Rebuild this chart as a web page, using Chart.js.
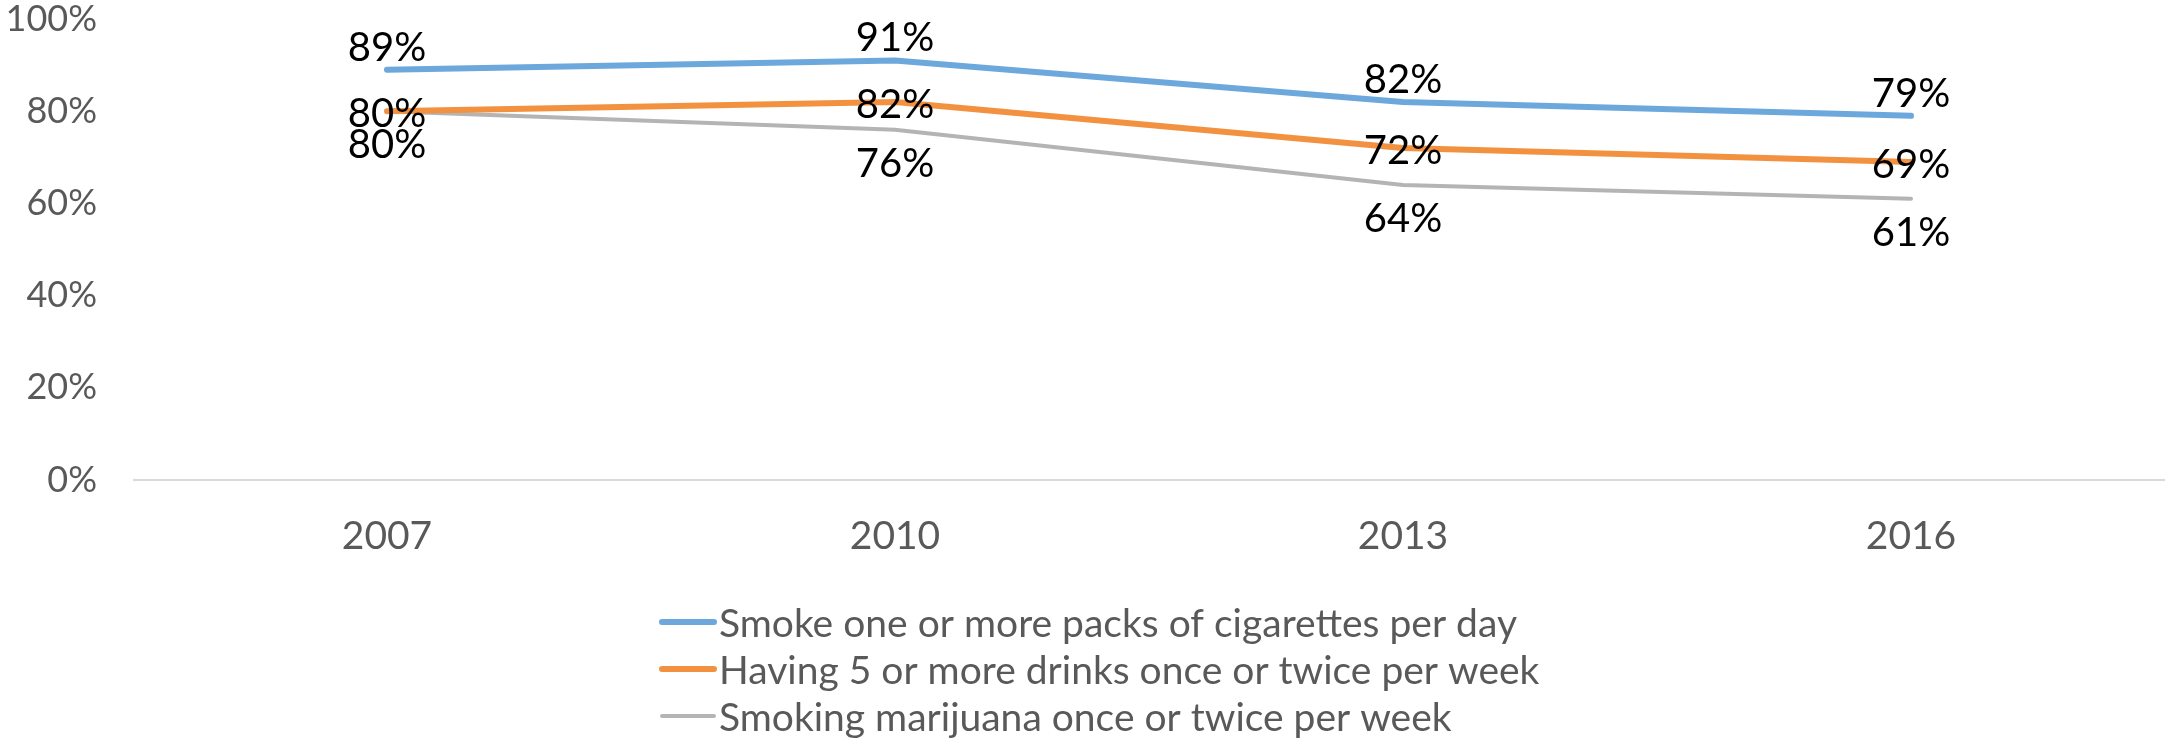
<!DOCTYPE html>
<html>
<head>
<meta charset="utf-8">
<script src="https://cdn.jsdelivr.net/npm/chart.js@4"></script>
<style>
  body { margin: 0; background: #fff; }
  #wrap { width: 2176px; height: 739px; position: relative; }
</style>
</head>
<body>
<div id="wrap"><canvas id="surveyChart"></canvas></div>
<script>
const years = ['2007', '2010', '2013', '2016'];
const cigarettes = [89, 91, 82, 79];
const drinks = [80, 82, 72, 69];
const marijuana = [80, 76, 64, 61];
const seriesNames = [
  'Smoke one or more packs of cigarettes per day',
  'Having 5 or more drinks once or twice per week',
  'Smoking marijuana once or twice per week'
];
const yTicks = [0, 20, 40, 60, 80, 100];

const fontFamily = 'Lato, "Open Sans", sans-serif';

// labels over each point, offset set per series
const valueLabels = {
  id: 'valueLabels',
  afterDatasetsDraw(chart) {
    let ctx = chart.ctx;
    ctx.save();
    ctx.font = '40px ' + fontFamily;
    ctx.fillStyle = '#000';
    ctx.textAlign = 'center';
    ctx.textBaseline = 'middle';
    chart.data.datasets.forEach((ds, i) => {
      let meta = chart.getDatasetMeta(i);
      meta.data.forEach((pt, j) => {
        ctx.fillText(ds.data[j] + '%', pt.x, pt.y + ds.labelOffset);
      });
    });
    ctx.restore();
  }
};

// stacked legend under the axis, one series per row
const stackedLegend = {
  id: 'stackedLegend',
  afterDraw(chart) {
    let ctx = chart.ctx;
    ctx.save();
    ctx.font = '39px ' + fontFamily;
    ctx.textBaseline = 'middle';
    ctx.lineCap = 'round';
    chart.data.datasets.forEach((ds, i) => {
      let y = 622 + i * 47;
      ctx.strokeStyle = ds.borderColor;
      ctx.lineWidth = ds.borderWidth;
      ctx.beginPath();
      ctx.moveTo(662, y);
      ctx.lineTo(714, y);
      ctx.stroke();
      ctx.fillStyle = '#595959';
      ctx.fillText(ds.label, 719, y + 2);
    });
    ctx.restore();
  }
};

const data = {
  labels: years,
  datasets: [{
    label: seriesNames[0],
    data: cigarettes,
    borderColor: '#6CA8DC',
    borderWidth: 6,
    labelOffset: -22
  },
  {
    label: seriesNames[1],
    data: drinks,
    borderColor: '#F29240',
    borderWidth: 6,
    labelOffset: 3
  },
  {
    label: seriesNames[2],
    data: marijuana,
    borderColor: '#B4B4B4',
    borderWidth: 4,
    labelOffset: 34
  }]
};

const config = {
  type: 'line',
  data: data,
  options: {
    responsive: true,
    maintainAspectRatio: false,
    animation: false,
    layout: { padding: { top: 19, right: 11, bottom: 0, left: 0 } },
    elements: {
      point: { radius: 0 },
      line: { tension: 0, borderCapStyle: 'round', borderJoinStyle: 'round', fill: false }
    },
    plugins: {
      legend: { display: false },
      tooltip: { enabled: false }
    },
    scales: {
      x: {
        offset: true,
        grid: { display: false, drawTicks: false },
        border: { display: false },
        ticks: { color: '#595959', font: { family: fontFamily, size: 39 }, padding: 33 },
        afterFit: (scale) => { scale.height = 259; }
      },
      y: {
        min: 0,
        max: 100,
        afterBuildTicks: (scale) => { scale.ticks = yTicks.map(v => ({ value: v })); },
        grid: {
          drawTicks: false,
          lineWidth: 2,
          color: (c) => c.tick && c.tick.value === 0 ? '#D9D9D9' : 'rgba(0,0,0,0)'
        },
        border: { display: false },
        ticks: {
          color: '#595959',
          font: { family: fontFamily, size: 36 },
          padding: 36,
          callback: (v) => v + '%'
        },
        afterFit: (scale) => {
          scale.width = 133;
          scale.paddingTop = 0;
          scale.paddingBottom = 0;
        }
      }
    }
  },
  plugins: [valueLabels, stackedLegend]
};

let canvasChart = document.getElementById('surveyChart');
const myChart = new Chart(canvasChart, config);
</script>
</body>
</html>
